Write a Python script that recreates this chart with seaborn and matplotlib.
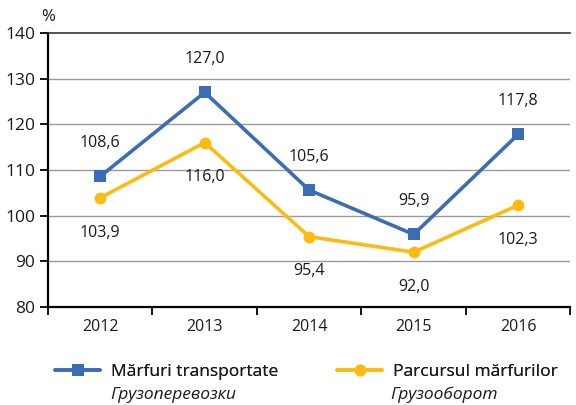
import pandas as pd
import matplotlib.pyplot as plt
from matplotlib.lines import Line2D
import seaborn as sns

years = ['2012', '2013', '2014', '2015', '2016']
transportate = [108.6, 127.0, 105.6, 95.9, 117.8]
parcursul = [103.9, 116.0, 95.4, 92.0, 102.3]
y_ticks = [80, 90, 100, 110, 120, 130, 140]

blue = '#3B6DB5'
gold = '#FDBB12'

sns.set_style('white')
plt.rcParams['font.family'] = ['Open Sans', 'DejaVu Sans']

df = pd.DataFrame({'x': range(len(years)), 't': transportate, 'p': parcursul})

fig = plt.figure(figsize=(5.76, 4.05), dpi=100)
ax = fig.add_axes([0.0833, 0.242, 0.907, 0.6765])

# grid lines
for v in y_ticks[1:-1]:
    ax.axhline(v, color='#9a9a9a', lw=1, zorder=0)

sns.lineplot(x='x', y='t', data=df, ax=ax, color=blue, lw=2.6, marker='s',
             markersize=8, markeredgewidth=0, zorder=3)
sns.lineplot(x='x', y='p', data=df, ax=ax, color=gold, lw=2.6, marker='o',
             markersize=8.5, markeredgewidth=0, zorder=2)

# value labels
for i, v in enumerate(transportate):
    ax.annotate(f'{v:.1f}'.replace('.', ','), (i, v), xytext=(0, 24),
                textcoords='offset points', ha='center', va='center', fontsize=11.5, color='#1a1a1a')
for i, v in enumerate(parcursul):
    ax.annotate(f'{v:.1f}'.replace('.', ','), (i, v), xytext=(0, -25),
                textcoords='offset points', ha='center', va='center', fontsize=11.5, color='#1a1a1a')

ax.set_xlim(-0.5, 4.5)
ax.set_ylim(80, 140)
ax.set_yticks(y_ticks)
ax.set_xticks(range(len(years)))
ax.set_xticklabels(years)
ax.set_xticks([i - 0.5 for i in range(len(years) + 1)], minor=True)
ax.tick_params(axis='x', which='major', length=0, pad=9, labelsize=11.5, labelcolor='#1a1a1a')
ax.tick_params(axis='x', which='minor', length=6, width=1.3, direction='out', bottom=True, color='black')
ax.tick_params(axis='y', length=6, width=1.3, direction='out', left=True, color='black',
               labelsize=12.5, labelcolor='#1a1a1a', pad=3)
ax.set_xlabel('')
ax.set_ylabel('')

for s in ['left', 'bottom']:
    ax.spines[s].set_color('black')
    ax.spines[s].set_linewidth(1.6)
ax.spines['top'].set_color('#333')
ax.spines['top'].set_linewidth(1.2)
ax.spines['right'].set_visible(False)

fig.text(48 / 576, 1 - 17 / 405, '%', ha='center', va='center', fontsize=12, color='#1a1a1a')

# legend: two separate entries
h1 = Line2D([], [], color=blue, lw=2.6, marker='s', markersize=8, markeredgewidth=0)
h2 = Line2D([], [], color=gold, lw=2.6, marker='o', markersize=8.5, markeredgewidth=0)
for h, lab, x0 in [(h1, 'Mărfuri transportate', 55), (h2, 'Parcursul mărfurilor', 337)]:
    leg = fig.legend([h], [lab], loc='center left', bbox_to_anchor=(x0 / 576, 1 - 372 / 405),
                     frameon=False, fontsize=12.5, handlelength=2.6, handletextpad=0.6,
                     borderaxespad=0, borderpad=0)
    leg.get_texts()[0].set_color('#1a1a1a')
    fig.add_artist(leg)

fig.text(110 / 576, 1 - 395 / 405, 'Грузоперевозки', style='italic', fontsize=12.5,
         ha='left', va='center', color='#1a1a1a')
fig.text(390 / 576, 1 - 395 / 405, 'Грузооборот', style='italic', fontsize=12.5,
         ha='left', va='center', color='#1a1a1a')

fig.savefig('out.png', dpi=100)
